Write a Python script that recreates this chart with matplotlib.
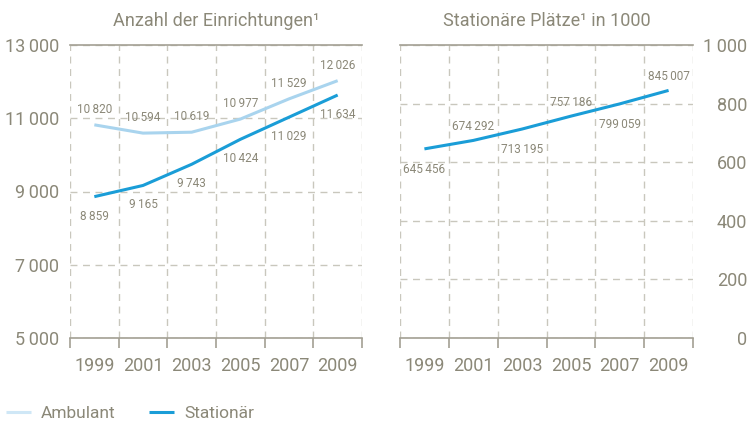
import numpy as np
import matplotlib
matplotlib.use('Agg')
import matplotlib.pyplot as plt

plt.rcParams['font.family'] = ['Roboto', 'DejaVu Sans']

years = ['1999', '2001', '2003', '2005', '2007', '2009']
ambulant = [10820, 10594, 10619, 10977, 11529, 12026]
stationaer = [8859, 9165, 9743, 10424, 11029, 11634]
plaetze = [645456, 674292, 713195, 757186, 799059, 845007]

txt = '#8b8878'
grid_c = '#c9c7bd'
spine_c = '#a3a094'
c_amb = '#a9d4ee'
c_sta = '#1a9dd7'


def fmt(v):
    s = '{:,}'.format(int(v)).replace(',', '\u2009')
    return s


fig = plt.figure(figsize=(7.5, 4.24), dpi=100)
ax1 = fig.add_axes([70/750, 1-338/424, 292/750, 293/424])
ax2 = fig.add_axes([400/750, 1-338/424, 293/750, 293/424])

x = np.arange(len(years))

for ax in (ax1, ax2):
    ax.set_xlim(-0.5, len(years) - 0.5)
    ax.set_xticks(x)
    ax.set_xticklabels(years)
    ax.set_xticks(np.arange(-0.5, len(years)), minor=True)
    ax.tick_params(axis='x', which='major', length=0, pad=14, labelsize=13, labelcolor=txt)
    ax.tick_params(axis='x', which='minor', length=7, width=1.2, color=spine_c, direction='out')
    ax.tick_params(axis='y', length=0, labelsize=13, labelcolor=txt)
    ax.grid(which='minor', axis='x', color=grid_c, ls=(0, (5, 4)), lw=1)
    ax.grid(which='major', axis='y', color=grid_c, ls=(0, (5, 4)), lw=1)
    ax.set_axisbelow(True)
    for s in ('left', 'right'):
        ax.spines[s].set_visible(False)
    for s in ('top', 'bottom'):
        ax.spines[s].set_color(spine_c)
        ax.spines[s].set_linewidth(1.2)

# linke Grafik
ax1.set_ylim(5000, 13000)
ax1.set_yticks([5000, 7000, 9000, 11000, 13000])
ax1.set_yticklabels([fmt(v) for v in [5000, 7000, 9000, 11000, 13000]])
ax1.tick_params(axis='y', pad=8)
ax1.plot(x, ambulant, color=c_amb, lw=2.2, solid_capstyle='butt', label='Ambulant')
ax1.plot(x, stationaer, color=c_sta, lw=2.2, solid_capstyle='butt', label='Stationär')
for xi, v in zip(x, ambulant):
    ax1.annotate(fmt(v), (xi, v), xytext=(0, 11), textcoords='offset points',
                 ha='center', va='center', fontsize=8.5, color=txt)
for xi, v in zip(x, stationaer):
    ax1.annotate(fmt(v), (xi, v), xytext=(0, -14), textcoords='offset points',
                 ha='center', va='center', fontsize=8.5, color=txt)
ax1.set_title('Anzahl der Einrichtungen\u00b9', fontsize=13, color=txt, pad=14)

# rechte Grafik
pl = [v / 1000 for v in plaetze]
ax2.set_ylim(0, 1000)
ax2.set_yticks([0, 200, 400, 600, 800, 1000])
ax2.set_yticklabels([fmt(v) for v in [0, 200, 400, 600, 800, 1000]])
ax2.yaxis.tick_right()
ax2.tick_params(axis='y', pad=39)
for lab in ax2.get_yticklabels():
    lab.set_horizontalalignment('right')
ax2.plot(x, pl, color=c_sta, lw=2.2, solid_capstyle='butt')
for i, (xi, v) in enumerate(zip(x, pl)):
    dy = -15 if i % 2 == 0 else 10
    ax2.annotate(fmt(plaetze[i]), (xi, v), xytext=(0, dy), textcoords='offset points',
                 ha='center', va='center', fontsize=8.5, color=txt)
ax2.set_title('Stationäre Plätze\u00b9 in 1000', fontsize=13, color=txt, pad=14)

h, l = ax1.get_legend_handles_labels()
h[0].set_color('#cfe7f6')
leg = fig.legend(h, l, loc='lower left', bbox_to_anchor=(0.008, 0.008), ncol=2,
                 frameon=False, fontsize=12.5, handlelength=1.45, handletextpad=0.58,
                 columnspacing=1.9, borderpad=0, borderaxespad=0)
for t in leg.get_texts():
    t.set_color(txt)
h[0].set_color(c_amb)

fig.savefig('out.png', dpi=100)
